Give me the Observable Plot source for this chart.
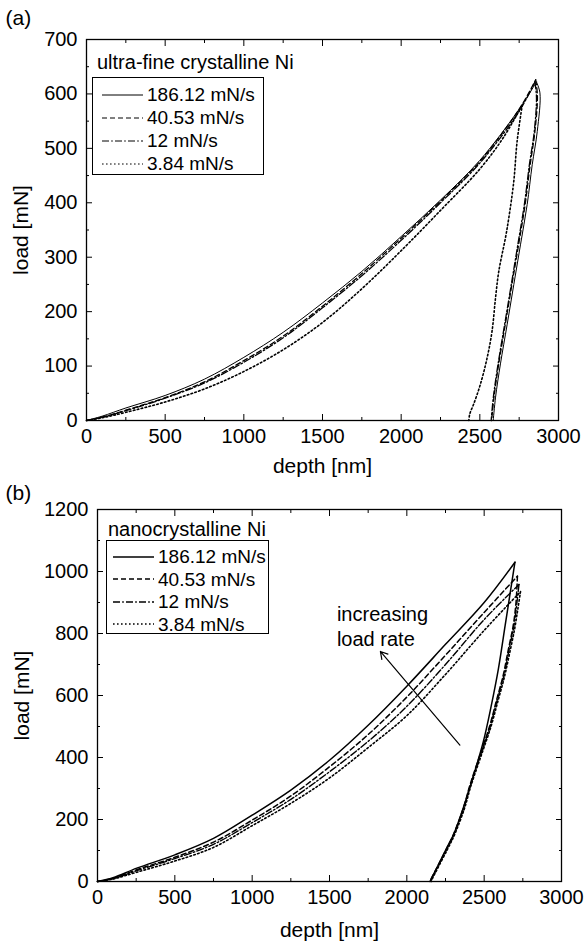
<!DOCTYPE html>
<html><head><meta charset="utf-8">
<script src="https://cdn.jsdelivr.net/npm/d3@7"></script>
<script src="https://cdn.jsdelivr.net/npm/@observablehq/plot@0.6"></script>
<style>
body{margin:0;background:#fff;font-family:"Liberation Sans",Arial,sans-serif;color:#000;}
.panel{position:relative;width:586px;}
.panel svg{display:block;}
.ltitle{position:absolute;font-size:20px;white-space:nowrap;line-height:1;}
.lbox{position:absolute;border:1px solid #000;background:#fff;box-sizing:border-box;}
.lrow{position:absolute;left:0;display:flex;align-items:center;font-size:19px;white-space:nowrap;line-height:1;}
.lrow svg{display:block;}
</style></head><body>
<div id="pa" class="panel"></div>
<div id="pb" class="panel"></div>
<script>
// ---------- data ----------
const rates = ["186.12 mN/s", "40.53 mN/s", "12 mN/s", "3.84 mN/s"];
const titleA = "ultra-fine crystalline Ni";
const titleB = "nanocrystalline Ni";
const xLabel = "depth [nm]";
const yLabel = "load [mN]";
const xTicks = [0, 500, 1000, 1500, 2000, 2500, 3000];
const xMinor = [250, 750, 1250, 1750, 2250, 2750];
const yTicksA = [0, 100, 200, 300, 400, 500, 600, 700];
const yMinorA = [50, 150, 250, 350, 450, 550, 650];
const yTicksB = [0, 200, 400, 600, 800, 1000, 1200];
const yMinorB = [100, 300, 500, 700, 900, 1100];

// panel (a) ultra-fine crystalline Ni — loading
const aLoadDepth186 = [0, 100, 250, 500, 750, 1000, 1250, 1500, 1750, 2000, 2250, 2500, 2750, 2860];
const aLoadLoad186  = [0, 8, 23, 46, 76, 116, 162, 216, 274, 338, 405, 478, 572, 622];
const aLoadDepth40  = [0, 100, 250, 500, 750, 1000, 1250, 1500, 1750, 2000, 2250, 2500, 2750, 2855];
const aLoadLoad40   = [0, 6, 19, 42, 71, 110, 155, 210, 270, 335, 403, 476, 572, 626];
const aLoadDepth12  = [0, 100, 250, 500, 750, 1000, 1250, 1500, 1750, 2000, 2250, 2500, 2750, 2850];
const aLoadLoad12   = [0, 6, 18, 41, 69, 107, 152, 207, 266, 331, 400, 473, 568, 622];
const aLoadDepth384 = [0, 100, 250, 500, 750, 1000, 1250, 1500, 1750, 2000, 2250, 2500, 2650, 2770];
const aLoadLoad384  = [0, 5, 15, 34, 58, 90, 130, 180, 242, 312, 386, 462, 520, 580];
// panel (a) — unloading
const aUnDepth186 = [2860, 2882, 2865, 2833, 2801, 2759, 2716, 2674, 2631, 2600, 2585];
const aUnLoad186  = [622, 602, 531, 470, 397, 324, 250, 177, 104, 43, 0];
const aUnDepth40  = [2855, 2866, 2850, 2820, 2788, 2747, 2704, 2662, 2620, 2590, 2575];
const aUnLoad40   = [626, 596, 531, 470, 397, 324, 250, 177, 104, 43, 0];
const aUnDepth12  = [2850, 2860, 2846, 2815, 2783, 2742, 2700, 2658, 2616, 2586, 2572];
const aUnLoad12   = [622, 594, 531, 470, 397, 324, 250, 177, 104, 43, 0];
const aUnDepth384 = [2770, 2737, 2716, 2684, 2663, 2621, 2600, 2578, 2547, 2504, 2462, 2436, 2430];
const aUnLoad384  = [580, 513, 440, 372, 336, 275, 226, 165, 116, 67, 31, 12, 0];

// panel (b) nanocrystalline Ni — loading
const bLoadDepth186 = [0, 100, 254, 500, 750, 1000, 1250, 1500, 1750, 2000, 2250, 2500, 2699];
const bLoadLoad186  = [0, 12, 43, 86, 139, 214, 295, 391, 504, 630, 765, 900, 1030];
const bLoadDepth40  = [0, 100, 254, 500, 750, 1000, 1250, 1500, 1750, 2000, 2250, 2500, 2715];
const bLoadLoad40   = [0, 10, 38, 78, 127, 198, 276, 370, 474, 595, 730, 868, 985];
const bLoadDepth12  = [0, 100, 254, 500, 750, 1000, 1250, 1500, 1750, 2000, 2250, 2500, 2725];
const bLoadLoad12   = [0, 9, 35, 74, 120, 190, 265, 354, 452, 565, 700, 845, 958];
const bLoadDepth384 = [0, 100, 254, 500, 750, 1000, 1250, 1500, 1750, 2000, 2250, 2500, 2735];
const bLoadLoad384  = [0, 8, 30, 66, 110, 180, 252, 334, 432, 535, 668, 810, 935];
// panel (b) — unloading
const bUnDepth186 = [2699, 2668, 2636, 2592, 2545, 2494, 2430, 2370, 2305, 2260, 2195, 2160, 2150];
const bUnLoad186  = [1030, 930, 827, 686, 565, 450, 340, 245, 155, 110, 45, 11, 0];
const bUnDepth40  = [2715, 2706, 2688, 2655, 2623, 2580, 2537, 2473, 2408, 2365, 2300, 2258, 2193, 2160, 2150];
const bUnLoad40   = [985, 900, 826, 745, 665, 585, 504, 408, 311, 236, 150, 107, 43, 11, 0];
const bUnDepth12  = [2725, 2712, 2693, 2660, 2628, 2584, 2541, 2477, 2411, 2368, 2303, 2261, 2196, 2163, 2155];
const bUnLoad12   = [958, 900, 826, 745, 665, 585, 504, 408, 311, 236, 150, 107, 43, 11, 0];
const bUnDepth384 = [2735, 2718, 2697, 2664, 2631, 2588, 2544, 2480, 2414, 2371, 2306, 2264, 2199, 2166, 2158];
const bUnLoad384  = [935, 880, 815, 735, 660, 580, 500, 405, 308, 233, 148, 105, 42, 10, 0];

const annotLines = ["increasing", "load rate"];
const arrowFrom = {d: 2343, l: 440};
const arrowTo = {d: 1829, l: 742};
const annotAt = {d: 1548, l: [862, 780]};

// ---------- styles ----------
const dashes = [null, "5,3", "7,2.2,1.6,2.2", "1.6,2.4"];
const FONT = "'Liberation Sans', Arial, sans-serif";

const zip = (ds, ls) => ds.map((d, i) => ({d, l: ls[i]}));

const seriesA = [
  [zip(aLoadDepth186, aLoadLoad186), zip(aUnDepth186, aUnLoad186)],
  [zip(aLoadDepth40, aLoadLoad40), zip(aUnDepth40, aUnLoad40)],
  [zip(aLoadDepth12, aLoadLoad12), zip(aUnDepth12, aUnLoad12)],
  [zip(aLoadDepth384, aLoadLoad384), zip(aUnDepth384, aUnLoad384)]
];
const seriesB = [
  [zip(bLoadDepth186, bLoadLoad186), zip(bUnDepth186, bUnLoad186)],
  [zip(bLoadDepth40, bLoadLoad40), zip(bUnDepth40, bUnLoad40)],
  [zip(bLoadDepth12, bLoadLoad12), zip(bUnDepth12, bUnLoad12)],
  [zip(bLoadDepth384, bLoadLoad384), zip(bUnDepth384, bUnLoad384)]
];

function axesMarks(yTicks, yMinor) {
  return [
    Plot.axisX({anchor: "bottom", ticks: xTicks, tickSize: 0, tickPadding: 8, tickFormat: d => String(d), label: null, fontSize: 20}),
    Plot.axisY({anchor: "left", ticks: yTicks, tickSize: 0, tickPadding: 9, tickFormat: d => String(d), label: null, fontSize: 20}),
    Plot.axisX({anchor: "bottom", ticks: xTicks, tickSize: -6, text: null, label: null}),
    Plot.axisX({anchor: "bottom", ticks: xMinor, tickSize: -3, text: null, label: null}),
    Plot.axisX({anchor: "top", ticks: xTicks, tickSize: -6, text: null, label: null}),
    Plot.axisX({anchor: "top", ticks: xMinor, tickSize: -3, text: null, label: null}),
    Plot.axisY({anchor: "left", ticks: yTicks, tickSize: -6, text: null, label: null}),
    Plot.axisY({anchor: "left", ticks: yMinor, tickSize: -3, text: null, label: null}),
    Plot.axisY({anchor: "right", ticks: yTicks, tickSize: -6, text: null, label: null}),
    Plot.axisY({anchor: "right", ticks: yMinor, tickSize: -3, text: null, label: null}),
    Plot.frame({stroke: "black", strokeWidth: 1.3})
  ];
}

function curveMarks(series, widths) {
  const marks = [];
  series.forEach((segs, i) => {
    segs.forEach(seg => {
      marks.push(Plot.line(seg, {x: "d", y: "l", stroke: "black", strokeWidth: widths[i],
        strokeDasharray: dashes[i], curve: "catmull-rom"}));
    });
  });
  return marks;
}

function legend(container, title, t, box, sampleW) {
  const tt = document.createElement("div");
  tt.className = "ltitle";
  tt.style.left = t.left + "px"; tt.style.top = t.top + "px";
  tt.textContent = title;
  container.appendChild(tt);
  const b = document.createElement("div");
  b.className = "lbox";
  Object.assign(b.style, {left: box.left + "px", top: box.top + "px", width: box.w + "px", height: box.h + "px"});
  rates.forEach((r, i) => {
    const row = document.createElement("div");
    row.className = "lrow";
    row.style.top = (box.rowTop + i * box.rowGap) + "px";
    row.style.left = box.pad + "px";
    const s = d3.create("svg").attr("width", sampleW + 4).attr("height", 10);
    s.append("line").attr("x1", 0).attr("x2", sampleW).attr("y1", 5).attr("y2", 5)
      .attr("stroke", "black").attr("stroke-width", box.sw).attr("stroke-dasharray", dashes[i]);
    row.appendChild(s.node());
    const sp = document.createElement("span");
    sp.textContent = r;
    row.appendChild(sp);
    b.appendChild(row);
  });
  container.appendChild(b);
}

// ---------- panel (a) ----------
const plotA = Plot.plot({
  width: 586, height: 480,
  marginLeft: 86, marginRight: 28, marginTop: 39, marginBottom: 60,
  style: {fontSize: "20px", fontFamily: FONT, background: "white", color: "black"},
  x: {domain: [0, 3000]},
  y: {domain: [0, 700]},
  marks: [
    ...curveMarks(seriesA, [1, 1.3, 1.3, 1.6]),
    ...axesMarks(yTicksA, yMinorA),
    Plot.text([xLabel], {frameAnchor: "bottom", lineAnchor: "middle", dy: 46, fontSize: 21, fill: "black"}),
    Plot.text([yLabel], {frameAnchor: "left", textAnchor: "middle", lineAnchor: "middle", rotate: -90, dx: -65, fontSize: 21, fill: "black"}),
    Plot.text(["(a)"], {frameAnchor: "top-left", textAnchor: "start", lineAnchor: "middle", dx: -81, dy: -21, fontSize: 21, fill: "black"})
  ]
});
const pa = document.getElementById("pa");
pa.appendChild(plotA);
legend(pa, titleA, {left: 97, top: 52}, {left: 92, top: 77, w: 172, h: 98, rowTop: 7, rowGap: 23, pad: 9, sw: 1}, 41);

// ---------- panel (b) ----------
const plotB = Plot.plot({
  width: 586, height: 464,
  marginLeft: 97, marginRight: 25, marginTop: 29, marginBottom: 63,
  style: {fontSize: "20px", fontFamily: FONT, background: "white", color: "black"},
  x: {domain: [0, 3000]},
  y: {domain: [0, 1200]},
  marks: [
    ...curveMarks(seriesB, [1.5, 1.5, 1.4, 1.6]),
    Plot.arrow([{x1: arrowFrom.d, y1: arrowFrom.l, x2: arrowTo.d, y2: arrowTo.l}],
      {x1: "x1", y1: "y1", x2: "x2", y2: "y2", stroke: "black", strokeWidth: 1.2, headLength: 10}),
    Plot.text(annotLines, {x: () => annotAt.d, y: (d, i) => annotAt.l[i], textAnchor: "start", fontSize: 20, fill: "black"}),
    ...axesMarks(yTicksB, yMinorB),
    Plot.text([xLabel], {frameAnchor: "bottom", lineAnchor: "middle", dy: 49, fontSize: 21, fill: "black"}),
    Plot.text([yLabel], {frameAnchor: "left", textAnchor: "middle", lineAnchor: "middle", rotate: -90, dx: -75, fontSize: 21, fill: "black"}),
    Plot.text(["(b)"], {frameAnchor: "top-left", textAnchor: "start", lineAnchor: "middle", dx: -92, dy: -16, fontSize: 21, fill: "black"})
  ]
});
const pb = document.getElementById("pb");
pb.appendChild(plotB);
legend(pb, titleB, {left: 108, top: 39}, {left: 106, top: 60, w: 163, h: 94, rowTop: 6, rowGap: 22.5, pad: 6, sw: 1.5}, 41);
</script>
</body></html>
